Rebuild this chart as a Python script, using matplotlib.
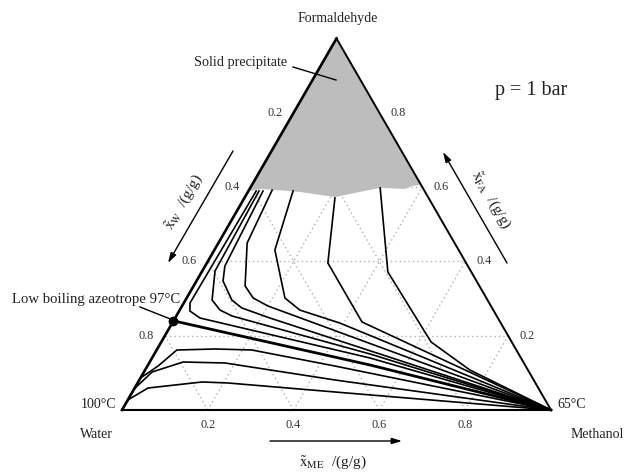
import numpy as np
import matplotlib
matplotlib.use('Agg')
import matplotlib.pyplot as plt
from matplotlib.patches import Polygon

plt.rcParams['font.family'] = ['Liberation Serif', 'DejaVu Serif']
plt.rcParams['mathtext.fontset'] = 'stix'

# ---------------- data (mass fractions: methanol x_ME, formaldehyde x_FA) ----------------
ticks = [0.2, 0.4, 0.6, 0.8]
tick_labels = ['0.2', '0.4', '0.6', '0.8']

# solid precipitate region lower boundary (left edge -> right edge)
solid_me = [0.0, 0.029, 0.121, 0.21, 0.261, 0.303, 0.362, 0.375, 0.394]
solid_fa = [0.59, 0.595, 0.587, 0.573, 0.587, 0.598, 0.595, 0.603, 0.606]

# azeotrope
azeo_me, azeo_fa = 0.0, 0.24

# separatrix (azeotrope -> methanol)
sep_me = [0.0, 0.518, 1.0]
sep_fa = [0.24, 0.121, 0.0]

# curves above the separatrix (start at the solid boundary)
curve_a_me = [0.018, 0.0145, 0.025, 0.058, 0.508, 1.0]
curve_a_fa = [0.5895, 0.288, 0.2665, 0.2476, 0.14, 0.0]
curve_b_me = [0.0246, 0.0298, 0.062, 0.094, 0.13, 0.503, 1.0]
curve_b_fa = [0.5895, 0.374, 0.296, 0.269, 0.253, 0.1507, 0.0]
curve_c_me = [0.034, 0.046, 0.062, 0.108, 0.142, 0.221, 1.0]
curve_c_fa = [0.5895, 0.3876, 0.347, 0.296, 0.2746, 0.2476, 0.0]
curve_d_me = [0.054, 0.067, 0.12, 0.155, 0.20, 1.0]
curve_d_fa = [0.592, 0.4495, 0.3338, 0.3015, 0.28, 0.0]
curve_e_me = [0.104, 0.141, 0.229, 0.28, 0.391, 1.0]
curve_e_fa = [0.5895, 0.4307, 0.3015, 0.269, 0.234, 0.0]
curve_p_me = [0.211, 0.282, 0.441, 1.0]
curve_p_fa = [0.5707, 0.3957, 0.2369, 0.0]
curve_q_me = [0.303, 0.434, 0.629, 0.757, 1.0]
curve_q_fa = [0.5976, 0.3715, 0.183, 0.1077, 0.0]

# curves below the azeotrope (start at water)
curve_1_me = [0.0, 0.0, 0.025, 0.047, 0.135, 0.222, 0.437, 1.0]
curve_1_fa = [0.0, 0.0861, 0.1184, 0.1615, 0.1642, 0.1615, 0.1184, 0.0]
curve_2_me = [0.0, 0.0, 0.019, 0.078, 0.177, 0.456, 1.0]
curve_2_fa = [0.0, 0.0565, 0.1023, 0.1292, 0.1265, 0.0808, 0.0]
curve_3_me = [0.0, 0.0, 0.031, 0.149, 0.211, 0.472, 1.0]
curve_3_fa = [0.0, 0.0269, 0.0592, 0.0754, 0.0727, 0.0485, 0.0]

upper_curves = [(curve_a_me, curve_a_fa), (curve_b_me, curve_b_fa), (curve_c_me, curve_c_fa),
                (curve_d_me, curve_d_fa), (curve_e_me, curve_e_fa), (curve_p_me, curve_p_fa),
                (curve_q_me, curve_q_fa)]
lower_curves = [(curve_1_me, curve_1_fa), (curve_2_me, curve_2_fa), (curve_3_me, curve_3_fa)]

# ---------------- layout ----------------
W, H = 626, 472
x0, y0, side = 122, 410, 429   # water vertex pixel position and triangle side (px)

def cart(m, f):
    m = np.asarray(m, float)
    f = np.asarray(f, float)
    return m + 0.5 * f, f * np.sqrt(3) / 2

def px(x, y):
    return (x - x0) / side, (y0 - y) / side

fig = plt.figure(figsize=(W / 100, H / 100), dpi=100)
ax = fig.add_axes([0, 0, 1, 1])
ax.set_xlim(-x0 / side, (W - x0) / side)
ax.set_ylim(-(H - y0) / side, y0 / side)
ax.set_aspect('equal')
ax.axis('off')

# grid (dotted)
gcol = '#b0b0b0'
for t in ticks:
    for (m1, f1, m2, f2) in [(0, t, 1 - t, t), (t, 0, t, 1 - t), (1 - t, 0, 0, 1 - t)]:
        X, Y = cart([m1, m2], [f1, f2])
        ax.plot(X, Y, ls=(0, (1, 2.2)), color=gcol, lw=1.0, zorder=1)

# solid precipitate region
sm = [0.0] + solid_me + [0.0]
sf = [1.0] + solid_fa + [1.0]
X, Y = cart(sm, sf)
ax.add_patch(Polygon(np.column_stack([X, Y]), closed=True, facecolor='#bdbdbd',
                     edgecolor='none', zorder=2))

# curves
for me, fa in upper_curves + lower_curves:
    X, Y = cart(me, fa)
    ax.plot(X, Y, color='black', lw=1.2, zorder=3, solid_joinstyle='miter')
X, Y = cart(sep_me, sep_fa)
ax.plot(X, Y, color='black', lw=2.0, zorder=3)

# triangle
X, Y = cart([0, 1, 0], [0, 0, 1])
ax.plot([X[0], X[1]], [Y[0], Y[1]], color='black', lw=1.5, zorder=4)
ax.plot([X[1], X[2]], [Y[1], Y[2]], color='black', lw=1.4, zorder=4)
ax.plot([X[0], X[2]], [Y[0], Y[2]], color='black', lw=1.9, zorder=4)

# azeotrope point
X, Y = cart([azeo_me], [azeo_fa])
ax.plot(X, Y, 'o', color='black', ms=6, zorder=5)

# tick labels
tcol = '#333333'
tfs = 8.8
for t, lab in zip(ticks, tick_labels):
    X, Y = cart([t], [0])
    ax.annotate(lab, (X[0], Y[0]), xytext=(0, -15), textcoords='offset pixels',
                ha='center', va='center', fontsize=tfs, color=tcol)
    X, Y = cart([0], [1 - t])
    ax.annotate(lab, (X[0], Y[0]), xytext=(-19, 0), textcoords='offset pixels',
                ha='center', va='center', fontsize=tfs, color=tcol)
    X, Y = cart([1 - t], [t])
    ax.annotate(lab, (X[0], Y[0]), xytext=(19, 0), textcoords='offset pixels',
                ha='center', va='center', fontsize=tfs, color=tcol)

# labels
tc = '#222222'
ax.text(*px(338, 18), 'Formaldehyde', ha='center', va='center', fontsize=10, color=tc)
ax.text(*px(96, 434), 'Water', ha='center', va='center', fontsize=10, color=tc)
ax.text(*px(597, 434), 'Methanol', ha='center', va='center', fontsize=10, color=tc)
ax.text(*px(98, 405), '100°C', ha='center', va='center', fontsize=10, color=tc)
ax.text(*px(572, 405), '65°C', ha='center', va='center', fontsize=10, color=tc)
ax.text(*px(531, 90), 'p = 1 bar', ha='center', va='center', fontsize=14.5, color=tc)

ax.text(*px(241, 62), 'Solid precipitate', ha='center', va='center', fontsize=10.3, color=tc)
ax.plot(*zip(px(293, 67), px(336, 80)), color='black', lw=1.0, zorder=6)

ax.text(*px(96, 300), 'Low boiling azeotrope 97°C', ha='center', va='center',
        fontsize=10.6, color=tc)
ax.plot(*zip(px(140, 307), px(173, 320)), color='black', lw=1.0, zorder=6)

# axis arrows
akw = dict(arrowstyle='-|>,head_length=0.6,head_width=0.18', color='black', lw=1.0,
           shrinkA=0, shrinkB=0)
ax.annotate('', xy=px(168, 263), xytext=px(233, 151), arrowprops=akw)
ax.annotate('', xy=px(443, 152), xytext=px(507, 263), arrowprops=akw)
ax.annotate('', xy=px(402, 441), xytext=px(270, 441), arrowprops=akw)

ax.text(*px(184, 202), r'$\tilde{\mathrm{x}}_{\mathrm{W}}$  /(g/g)', ha='center', va='center',
        rotation=60, rotation_mode='anchor', fontsize=11, color=tc)
ax.text(*px(491, 200), r'$\tilde{\mathrm{x}}_{\mathrm{FA}}$  /(g/g)', ha='center', va='center',
        rotation=-60, rotation_mode='anchor', fontsize=11, color=tc)
ax.text(*px(333, 462), r'$\tilde{\mathrm{x}}_{\mathrm{ME}}$  /(g/g)', ha='center', va='center',
        fontsize=11, color=tc)

fig.savefig('out.png', dpi=100)
